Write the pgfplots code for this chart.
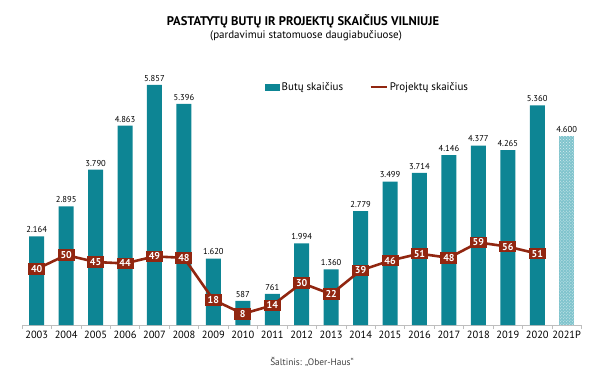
\documentclass[border=0pt]{standalone}
\usepackage{pgfplots}
\pgfplotsset{compat=1.18}
\usetikzlibrary{patterns}
\usepackage{fontspec}
\setmainfont{PT Sans}
\definecolor{tealc}{RGB}{13,133,148}
\definecolor{redc}{RGB}{145,38,16}
\definecolor{lightc}{RGB}{128,196,205}
\definecolor{axc}{RGB}{190,190,190}
\begin{document}
\begin{tikzpicture}[x=1bp,y=1bp]
\useasboundingbox (0,0) rectangle (600,386);
\node[font=\bfseries\fontsize{12.6}{14}\selectfont] at (303,365) {PASTATYTŲ BUTŲ IR PROJEKTŲ SKAIČIUS VILNIUJE};
\node[font=\fontsize{11}{13}\selectfont] at (306,350) {(pardavimui statomuose daugiabučiuose)};
\node[font=\fontsize{9.4}{11}\selectfont, text=black!75] at (312,24) {Šaltinis: „Ober-Haus“};
\begin{axis}[
  at={(22bp,61bp)}, anchor=south west,
  scale only axis, width=559.4bp, height=286.9bp,
  xmin=-0.5, xmax=18.5, ymin=0, ymax=7000,
  axis x line*=bottom, axis y line=none,
  x axis line style={draw=axc, line width=0.8pt},
  xtick={0,...,18},
  xticklabels={2003,2004,2005,2006,2007,2008,2009,2010,2011,2012,2013,2014,2015,2016,2017,2018,2019,2020,2021P},
  major tick length=0pt,
  minor xtick={-0.5,0.5,...,18.5},
  minor tick length=4bp,
  tick align=outside,
  tick style={draw=axc, line width=0.6pt},
  xticklabel style={font=\fontsize{10.5}{12}\selectfont, yshift=-3bp},
  /pgf/number format/assume math mode=true,
  ybar, bar width=15bp,
  nodes near coords,
  every node near coord/.append style={font=\fontsize{8.6}{10}\selectfont, /pgf/number format/1000 sep={.}},
  legend style={at={(rel axis cs:0.618,0.83)}, anchor=center, draw=none, legend columns=2,
    font=\fontsize{11}{12}\selectfont, /tikz/every even column/.append style={column sep=24bp}},
  clip=false,
]
\addplot[fill=tealc, draw=none, bar shift=0pt, forget plot] coordinates {
(0,2164) (1,2895) (2,3790) (3,4863) (4,5857) (5,5396) (6,1620) (7,587) (8,761)
(9,1994) (10,1360) (11,2779) (12,3499) (13,3714) (14,4146) (15,4377) (16,4265) (17,5360)};
\addplot[fill=lightc, draw=none, bar shift=0pt, forget plot,
  postaction={pattern=crosshatch dots, pattern color=white!70!lightc}] coordinates {(18,4600)};
\addlegendimage{legend image code/.code={\fill[tealc] (0bp,-3bp) rectangle (14bp,3bp);}}
\addlegendentry{Butų skaičius}
\addlegendimage{legend image code/.code={\draw[redc, line width=2.6pt] (0bp,0bp) -- (16bp,0bp);}}
\addlegendentry{Projektų skaičius}
\end{axis}
\begin{axis}[
  at={(22bp,61bp)}, anchor=south west,
  scale only axis, width=559.4bp, height=286.9bp,
  xmin=-0.5, xmax=18.5, ymin=0, ymax=205,
  hide axis, clip=false,
  /pgf/number format/assume math mode=true,
]
\addplot[redc, line width=2.6pt, mark=none, nodes near coords,
  every node near coord/.append style={anchor=center, fill=redc, text=white,
    font=\bfseries\fontsize{10}{11}\selectfont, inner sep=2.2pt, minimum width=17bp}] coordinates {
(0,40) (1,50) (2,45) (3,44) (4,49) (5,48) (6,18) (7,8) (8,14) (9,30) (10,22)
(11,39) (12,46) (13,51) (14,48) (15,59) (16,56) (17,51)};
\end{axis}
\end{tikzpicture}
\end{document}
